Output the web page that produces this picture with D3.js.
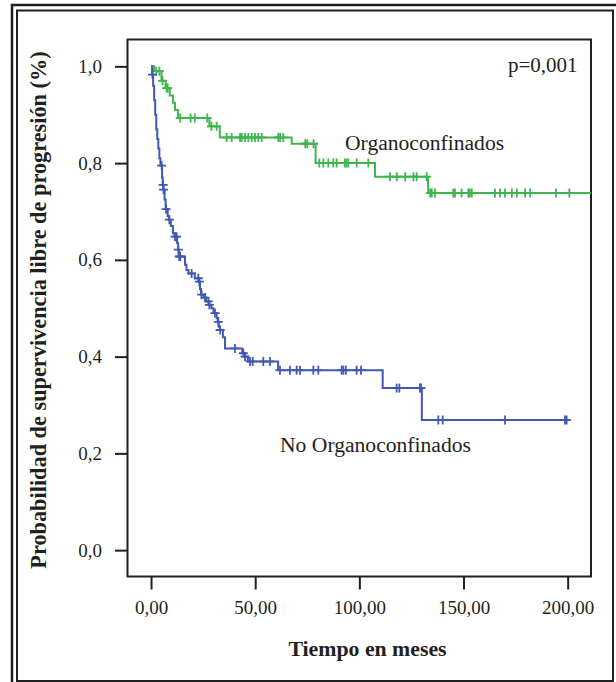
<!DOCTYPE html>
<html>
<head>
<meta charset="utf-8">
<script src="https://cdn.jsdelivr.net/npm/d3@7"></script>
<style>
  html, body { margin: 0; padding: 0; background: #fff; }
  svg { display: block; }
  text { font-family: "Liberation Serif", "Times New Roman", serif; fill: #231f20; }
</style>
</head>
<body>
<svg id="chart" width="616" height="682"></svg>
<script>
// Kaplan-Meier estimates: event times (months) and survival after each event
const orgTimes = [0, 1.5, 5, 7, 9, 10.5, 11.5, 13, 28, 33, 67.5, 79, 107.5, 133];
const orgSurv  = [1.0, 0.99, 0.97, 0.955, 0.94, 0.925, 0.91, 0.893, 0.876, 0.853, 0.84, 0.80, 0.772, 0.738];
const orgCensored = [2.5, 4, 5.5, 7.5, 8, 14, 19, 21, 27, 29, 31.5,
  36.3, 38.7, 42.7, 43.5, 45.1, 46.7, 48.3, 49.9, 51.5, 53.1, 61.1, 62, 63.5,
  74, 75, 78, 80.8, 82.7, 85.1, 87.5, 89.1, 93, 93.8, 94.7, 98.7, 104.3,
  114.7, 118, 122, 126, 127.5, 132.3,
  134, 134.8, 136.3, 145.1, 145.9, 149.1, 152.3, 153, 154, 165.1, 167.5, 169.9,
  173.2, 175.6, 179.6, 182, 194.4, 200.8];
const orgLast = 212;

const noOrgTimes = [0, 0.5, 1, 1.5, 2, 2.5, 3, 3.5, 4, 4.5, 5.3, 5.6, 5.9, 6.5, 7, 8, 8.6,
  9.5, 10.5, 11.3, 12.5, 13, 13.4, 16.3, 17, 18, 21, 23, 23.5, 24, 25.5, 26.5, 28, 29,
  30, 31.5, 32, 32.5, 33, 34.5, 35.5, 43.8, 45, 46.5, 61, 111.2, 130];
const noOrgSurv = [1.0, 0.983, 0.96, 0.93, 0.90, 0.87, 0.85, 0.83, 0.81, 0.795, 0.77, 0.755, 0.745, 0.725, 0.705, 0.69, 0.683,
  0.67, 0.655, 0.648, 0.635, 0.621, 0.607, 0.59, 0.579, 0.572, 0.562, 0.555, 0.54, 0.528, 0.522, 0.514, 0.507, 0.5,
  0.49, 0.48, 0.472, 0.462, 0.455, 0.44, 0.417, 0.407, 0.40, 0.39, 0.372, 0.335, 0.269];
const noOrgCensored = [0.7, 5.1, 5.8, 6.0, 7.2, 8.8, 11.5, 12.3, 13.1, 13.5, 14, 19.5, 22.7, 23.2, 24.3,
  25.9, 27.5, 28, 30.7, 32.3, 33.2, 40.3, 44.3, 45.1, 47.5, 48.8, 53.9, 57.1,
  61.9, 66.7, 69.9, 71.5, 77.9, 80.3, 91.5, 92.3, 93.5, 98.7, 100.8,
  117.9, 119.2, 129.1, 129.6, 137.9, 140, 169.9, 198.7];
const noOrgLast = 199.5;

const xTicks = [0, 50, 100, 150, 200];
const yTicks = [0, 0.2, 0.4, 0.6, 0.8, 1.0];

const groups = [
  { name: "Organoconfinados", times: orgTimes, surv: orgSurv, censored: orgCensored, last: orgLast, color: "#3fb54f" },
  { name: "No Organoconfinados", times: noOrgTimes, surv: noOrgSurv, censored: noOrgCensored, last: noOrgLast, color: "#4159b2" }
];

const fmt = (d, n) => d.toFixed(n).replace(".", ",");

const svg = d3.select("#chart");

// Double frame around the figure
svg.append("rect").attr("x", 12).attr("y", 5).attr("width", 610).attr("height", 684)
  .attr("fill", "none").attr("stroke", "#231f20").attr("stroke-width", 2.5);
svg.append("rect").attr("x", 17).attr("y", 10.5).attr("width", 596).attr("height", 670.5)
  .attr("fill", "none").attr("stroke", "#231f20").attr("stroke-width", 2);

const plot = { left: 127.5, top: 39.5, right: 591, bottom: 576.5 };

const x = d3.scaleLinear().domain([-11.3, 211.2]).range([plot.left, plot.right]);
const y = d3.scaleLinear().domain([-0.0545, 1.0555]).range([plot.bottom, plot.top]);

svg.append("defs").append("clipPath").attr("id", "plotClip")
  .append("rect").attr("x", plot.left).attr("y", plot.top)
  .attr("width", plot.right - plot.left).attr("height", plot.bottom - plot.top);

// Axes
const xAxis = svg.append("g").attr("transform", `translate(0,${plot.bottom})`)
  .call(d3.axisBottom(x).tickValues(xTicks).tickSize(13).tickPadding(11).tickFormat(d => fmt(d, 2)));
const yAxis = svg.append("g").attr("transform", `translate(${plot.left},0)`)
  .call(d3.axisLeft(y).tickValues(yTicks).tickSize(12.5).tickPadding(13).tickFormat(d => fmt(d, 1)));
[xAxis, yAxis].forEach(g => {
  g.select(".domain").remove();
  g.selectAll(".tick line").attr("stroke", "#231f20").attr("stroke-width", 2);
  g.selectAll(".tick text").attr("font-size", 19).attr("fill", "#231f20")
    .style("font-family", '"Liberation Serif", "Times New Roman", serif');
});

// Plot box
svg.append("rect").attr("x", plot.left).attr("y", plot.top)
  .attr("width", plot.right - plot.left).attr("height", plot.bottom - plot.top)
  .attr("fill", "none").attr("stroke", "#231f20").attr("stroke-width", 2);

const curves = svg.append("g").attr("clip-path", "url(#plotClip)");
const line = d3.line().x(d => x(d[0])).y(d => y(d[1])).curve(d3.curveStepAfter);

groups.forEach(g => {
  const pts = g.times.map((t, i) => [t, g.surv[i]]);
  pts.push([g.last, g.surv[g.surv.length - 1]]);
  curves.append("path").attr("d", line(pts))
    .attr("fill", "none").attr("stroke", g.color).attr("stroke-width", 2);

  // Censored observations: "+" placed on the curve level at that time
  const levelAt = t => {
    let s = g.surv[0];
    g.times.forEach((tt, i) => { if (tt <= t) s = g.surv[i]; });
    return s;
  };
  const marks = curves.append("g").attr("stroke", g.color).attr("stroke-width", 1.8);
  const all = g.censored.concat([g.last]);
  all.forEach(t => {
    const cx = x(t), cy = y(levelAt(t));
    marks.append("line").attr("x1", cx).attr("x2", cx).attr("y1", cy - 4.5).attr("y2", cy + 4.5);
    marks.append("line").attr("x1", cx - 4.5).attr("x2", cx + 4.5).attr("y1", cy).attr("y2", cy);
  });
});

// Annotations
svg.append("text").attr("x", 577.5).attr("y", 72).attr("text-anchor", "end")
  .attr("font-size", 21).text("p=0,001");
svg.append("text").attr("x", 345).attr("y", 149.5).attr("font-size", 21.6).text("Organoconfinados");
svg.append("text").attr("x", 280).attr("y", 452).attr("font-size", 21.6).text("No Organoconfinados");

// Axis titles
svg.append("text").attr("x", 367.5).attr("y", 656).attr("text-anchor", "middle")
  .attr("font-size", 21.8).attr("font-weight", "bold").text("Tiempo en meses");
svg.append("text").attr("transform", "translate(46,310) rotate(-90)").attr("text-anchor", "middle")
  .attr("font-size", 22.3).attr("font-weight", "bold")
  .text("Probabilidad de supervivencia libre de progresión (%)");
</script>
</body>
</html>
